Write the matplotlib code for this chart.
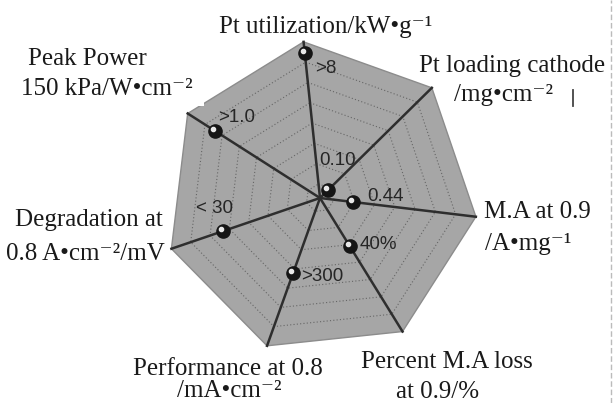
import numpy as np
import matplotlib.pyplot as plt
from matplotlib.transforms import offset_copy
from matplotlib.patches import Rectangle

B = '\u2022'   # bullet used as multiplication dot

# axis names (clockwise from the top), one list entry per text line
axis_labels = [
    ['Pt utilization/kW' + B + 'g\u207b\u00b9'],
    ['Pt loading cathode', '/mg' + B + 'cm\u207b\u00b2'],
    ['M.A at 0.9', '/A' + B + 'mg\u207b\u00b9'],
    ['Percent M.A loss', 'at 0.9/%'],
    ['Performance at 0.8', '/mA' + B + 'cm\u207b\u00b2'],
    ['Degradation at', '0.8 A' + B + 'cm\u207b\u00b2/mV'],
    ['Peak Power', '150 kPa/W' + B + 'cm\u207b\u00b2'],
]
value_text = ['>8', '0.10', '0.44', '40%', '>300', '< 30', '>1.0']
# relative position along each spoke (0 = centre, 1 = outer edge)
values = [0.93, 0.07, 0.21, 0.36, 0.51, 0.65, 0.79]

W, H = 613, 403
CX, CY, R = 320, 198, 157     # centre and radius of the heptagon in pixels
n = len(axis_labels)
angles = np.radians(96) - np.arange(n) * 2 * np.pi / n

fig = plt.figure(figsize=(W / 100, H / 100), dpi=100)
ax = fig.add_axes([0, 0, 1, 1])
ax.set_xlim(-CX / R, (W - CX) / R)
ax.set_ylim(-(H - CY) / R, CY / R)
ax.axis('off')

# panel
px = np.cos(angles)
py = np.sin(angles)
ax.fill(px, py, color='#a6a6a6', edgecolor='#8c8c8c', lw=1, zorder=1)

# dotted rings
for r in 1 - 0.13 * np.arange(1, 8):
    ax.plot(np.append(px, px[0]) * r, np.append(py, py[0]) * r,
            ls=(0, (1, 2)), color='#666666', lw=0.8, zorder=2)

# spokes
for a in angles:
    ax.plot([0, np.cos(a)], [0, np.sin(a)], color='#2e2e2e', lw=1.8, zorder=3)

# points (dark spheres with a small highlight)
vx = np.array(values) * np.cos(angles)
vy = np.array(values) * np.sin(angles)
ax.plot(vx, vy, 'o', ms=9.5, color='#151515', ls='none', zorder=4)
hl = offset_copy(ax.transData, fig=fig, x=-2, y=2, units='dots')
ax.plot(vx, vy, 'o', ms=3, color='#e8e8e8', ls='none', transform=hl, zorder=5)

# value labels, offsets in pixels from each point
label_offsets = [(10, -16, 'left'), (10, 30, 'center'), (15, 5, 'left'),
                 (10, 2, 'left'), (8, -3, 'left'), (-9, 22, 'center'),
                 (3, 14, 'left')]
for x, y, t, (dx, dy, ha) in zip(vx, vy, value_text, label_offsets):
    tr = offset_copy(ax.transData, fig=fig, x=dx, y=dy, units='dots')
    ax.text(x, y, t, transform=tr, ha=ha, va='center', fontsize=13.5,
            family='Liberation Sans', color='#262626', zorder=6)

# white patch behind the upper left label (cuts the panel corner)
fig.add_artist(Rectangle((0, 1 - 106 / H), 204 / W, 106 / H,
                         transform=fig.transFigure, facecolor='white',
                         edgecolor='none', zorder=2))

# axis names: centre x and baseline y of each line, pixels from top-left
name_pos = [[(326, 33)],
            [(512, 72), (504, 101)],
            [(537, 218), (528, 250)],
            [(447, 368), (438, 398)],
            [(228, 375), (229, 397)],
            [(89, 226), (85, 260)],
            [(87, 65), (107, 95)]]
for lines, pos in zip(axis_labels, name_pos):
    for t, (x, y) in zip(lines, pos):
        fig.text(x / W, 1 - y / H, t, ha='center', va='baseline',
                 fontsize=18, family=['Liberation Serif', 'DejaVu Serif'],
                 color='#1a1a1a', zorder=7)

# scan marks on the right
fig.add_artist(plt.Line2D([611 / W, 611 / W], [0, 1], color='#bbbbbb',
                          lw=1, ls=(0, (4, 2))))
fig.add_artist(plt.Line2D([573 / W, 573 / W], [1 - 90 / H, 1 - 106 / H],
                          color='#444444', lw=1.3))

fig.savefig('out.png', dpi=100)
